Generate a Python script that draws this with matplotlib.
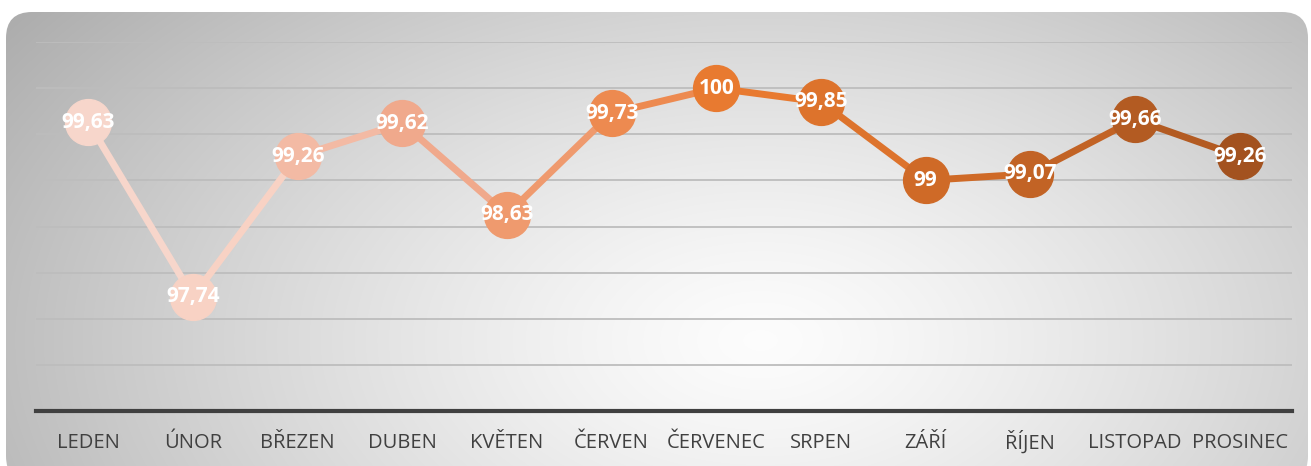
import numpy as np
import matplotlib.pyplot as plt
from matplotlib.patches import FancyBboxPatch

months = ["LEDEN", "ÚNOR", "BŘEZEN", "DUBEN", "KVĚTEN", "ČERVEN", "ČERVENEC",
          "SRPEN", "ZÁŘÍ", "ŘÍJEN", "LISTOPAD", "PROSINEC"]
values = [99.63, 97.74, 99.26, 99.62, 98.63, 99.73, 100, 99.85, 99, 99.07, 99.66, 99.26]
labels = ["99,63", "97,74", "99,26", "99,62", "98,63", "99,73", "100", "99,85",
          "99", "99,07", "99,66", "99,26"]
colors = ["#f7d6cb", "#f8d2c4", "#f3baa4", "#f0a98c", "#ef9a6e", "#ed8a50",
          "#e87a30", "#dd732c", "#cf6a27", "#c26325", "#b35b22", "#a3521f"]

W, H = 1311, 466
fig = plt.figure(figsize=(W / 100, H / 100), dpi=100)

# background: rounded panel with radial gradient
bg = fig.add_axes([0, 0, 1, 1])
bg.set_xlim(0, W)
bg.set_ylim(H, 0)
bg.axis("off")
yy, xx = np.mgrid[0:H, 0:W]
r = np.sqrt(((xx - 760) / 800.0) ** 2 + ((yy - 340) / 480.0) ** 2)
g = np.clip(0.99 - 0.26 * r ** 1.3, 0, 1)
img = bg.imshow(np.dstack([g, g, g]), extent=(0, W, H, 0), zorder=0)
panel = FancyBboxPatch((6, 12), 1302, 470, boxstyle="round,pad=0,rounding_size=26",
                       transform=bg.transData, facecolor="none", edgecolor="none")
bg.add_patch(panel)
img.set_clip_path(panel)

ax = fig.add_axes([36 / W, 1 - 411 / H, (1292 - 36) / W, (411 - 42) / H])
ax.patch.set_alpha(0)
ax.set_xlim(-0.5, 11.5)
ax.set_ylim(96.5, 100.5)
ax.set_yticks(np.arange(97, 100.51, 0.5))
ax.yaxis.grid(True, color="#bdbdbd", linewidth=1.3)
ax.set_axisbelow(True)
for s in ["top", "right", "left"]:
    ax.spines[s].set_visible(False)
ax.spines["bottom"].set_color("#404040")
ax.spines["bottom"].set_linewidth(3)
ax.tick_params(axis="y", left=False, labelleft=False)
ax.tick_params(axis="x", length=0, pad=27)
ax.set_xticks(range(len(months)))
ax.set_xticklabels(months, fontsize=14.5, color="#404040", family="Open Sans",
                   va="baseline")

x = np.arange(len(values))
for i in range(len(values) - 1):
    ax.plot(x[i:i + 2], values[i:i + 2], color=colors[i], linewidth=5,
            solid_capstyle="round", zorder=2)
for i in range(len(values)):
    ax.plot(x[i], values[i], "o", markersize=33, color=colors[i], zorder=3)
    ax.text(x[i], values[i], labels[i], ha="center", va="center", color="white",
            fontsize=15, fontweight="bold", family="Open Sans", zorder=4)

fig.savefig("out.png", dpi=100)
